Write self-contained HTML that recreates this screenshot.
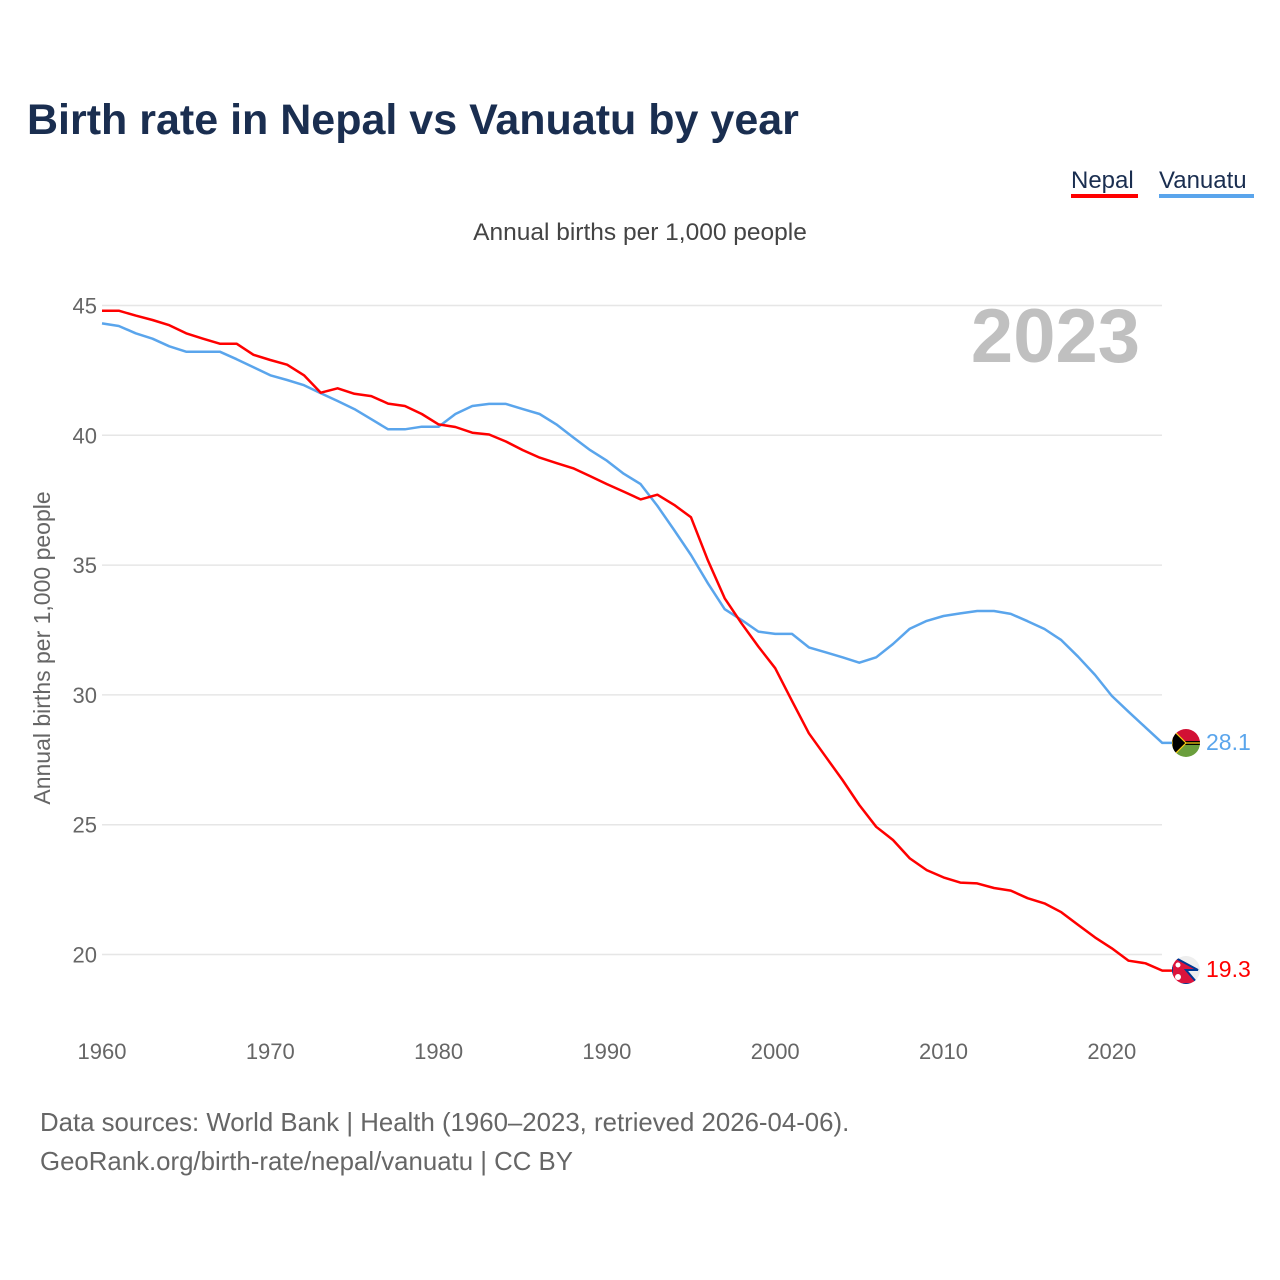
<!DOCTYPE html>
<html><head><meta charset="utf-8"><style>
body{margin:0;background:#fff;}
svg{display:block;font-family:"Liberation Sans",sans-serif;}
</style></head><body>
<svg id="chart" width="1280" height="1280" viewBox="0 0 1280 1280">
<rect width="1280" height="1280" fill="#fff"/>
<text x="27" y="134" font-size="43" font-weight="bold" fill="#1a2e50">Birth rate in Nepal vs Vanuatu by year</text>
<g><text x="1071" y="188" font-size="24" fill="#1a2e50">Nepal</text><rect x="1071" y="194" width="67" height="4" fill="#ff0000"/></g>
<g><text x="1159" y="188" font-size="24" fill="#1a2e50">Vanuatu</text><rect x="1159" y="194" width="95" height="4" fill="#5aa5ec"/></g>
<text x="640" y="240" font-size="24.5" fill="#444" text-anchor="middle">Annual births per 1,000 people</text>
<text x="1140" y="362" font-size="76" font-weight="bold" fill="#c0c0c0" text-anchor="end">2023</text>
<g id="grid"></g><g id="yticks"></g><g id="xticks"></g>
<text transform="translate(50,648) rotate(-90)" font-size="23" fill="#666" text-anchor="middle">Annual births per 1,000 people</text>
<g id="lines"></g>
<g>
<clipPath id="cv"><circle cx="1186" cy="743" r="14"/></clipPath>
<g clip-path="url(#cv)"><rect x="1172" y="729" width="28" height="14" fill="#d21034"/><rect x="1172" y="743" width="28" height="14" fill="#6a9e3c"/><rect x="1172" y="741" width="28" height="4" fill="#000"/><line x1="1172" y1="743" x2="1200" y2="743" stroke="#fdce12" stroke-width="1.2"/><polygon points="1172,729 1186,743 1172,757" fill="#000" stroke="#fdce12" stroke-width="1.2"/></g></g>
<g>
<clipPath id="cn"><circle cx="1186" cy="970" r="14"/></clipPath>
<g clip-path="url(#cn)"><rect x="1172" y="956" width="28" height="28" fill="#eee"/><polygon points="1172,956 1198,970 1186,970 1198,984 1172,984" fill="#dc143c" stroke="#003893" stroke-width="2"/><circle cx="1178" cy="965" r="2.5" fill="#fff"/><circle cx="1178" cy="977" r="3" fill="#fff"/></g></g>
<text x="1206" y="750" font-size="23" fill="#5aa5ec">28.1</text>
<text x="1206" y="977" font-size="23" fill="#ff0000">19.3</text>
<text x="40" y="1131" font-size="25.8" fill="#666">Data sources: World Bank | Health (1960–2023, retrieved 2026-04-06).</text>
<text x="40" y="1170" font-size="25.8" fill="#666">GeoRank.org/birth-rate/nepal/vanuatu | CC BY</text>
</svg>
<script>
const years=[];for(let y=1960;y<=2023;y++)years.push(y);
const nepal=[44.8,44.8,44.61,44.44,44.24,43.93,43.72,43.53,43.53,43.1,42.9,42.72,42.31,41.64,41.81,41.6,41.51,41.22,41.13,40.82,40.42,40.32,40.1,40.03,39.76,39.43,39.14,38.93,38.73,38.43,38.12,37.83,37.53,37.71,37.32,36.84,35.18,33.72,32.76,31.86,31.03,29.77,28.52,27.62,26.72,25.76,24.92,24.41,23.7,23.25,22.97,22.77,22.74,22.56,22.46,22.17,21.97,21.63,21.14,20.66,20.24,19.76,19.66,19.38];
const vanuatu=[44.31,44.21,43.93,43.72,43.43,43.22,43.22,43.22,42.93,42.62,42.31,42.13,41.93,41.62,41.32,41.01,40.62,40.23,40.23,40.33,40.33,40.82,41.13,41.21,41.21,41.01,40.82,40.42,39.92,39.43,39.02,38.52,38.12,37.28,36.35,35.39,34.3,33.3,32.89,32.44,32.35,32.35,31.83,31.64,31.45,31.24,31.45,31.96,32.55,32.85,33.04,33.14,33.23,33.23,33.12,32.84,32.54,32.11,31.47,30.77,29.96,29.35,28.75,28.15];
const yTicks=[20,25,30,35,40,45];
const xTicks=[1960,1970,1980,1990,2000,2010,2020];
const X=y=>102+(y-1960)*16.83;
const Y=v=>305.5+(45-v)*25.96;
const NS='http://www.w3.org/2000/svg';
function mk(tag,attrs,parent){const e=document.createElementNS(NS,tag);for(const k in attrs)e.setAttribute(k,attrs[k]);parent.appendChild(e);return e;}
const grid=document.getElementById('grid'),yt=document.getElementById('yticks'),xt=document.getElementById('xticks'),lines=document.getElementById('lines');
yTicks.forEach(v=>{
 const l=mk('line',{x1:102,x2:1162,y1:Y(v),y2:Y(v),stroke:'#e6e6e6','stroke-width':1.5},grid);
 
 
 const t=mk('text',{x:97,y:Y(v)+8,'font-size':22,fill:'#666','text-anchor':'end'},yt);
 t.textContent=v;
 
 
});
xTicks.forEach(y=>{
 const t=mk('text',{x:X(y),y:1059,'font-size':22,fill:'#666','text-anchor':'middle'},xt);
 t.textContent=y;
 
 
});
function drawLine(vals,color,name){
 let d=vals.map((v,i)=>(i?'L':'M')+X(years[i]).toFixed(1)+','+Y(v).toFixed(1)).join(' ');
 d+=' L1172,'+Y(vals[vals.length-1]).toFixed(1);
 const p=mk('path',{d:d,fill:'none',stroke:color,'stroke-width':2.5,'stroke-linejoin':'round'},lines);
 
 
}
drawLine(vanuatu,'#5aa5ec','vanuatu-line');
drawLine(nepal,'#ff0000','nepal-line');
</script>
</body></html>
